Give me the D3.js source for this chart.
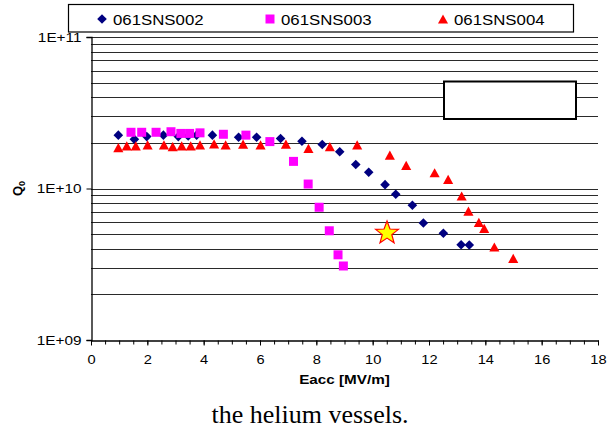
<!DOCTYPE html>
<html>
<head>
<meta charset="utf-8">
<script src="https://cdn.jsdelivr.net/npm/d3@7"></script>
<style>
  body { margin: 0; background: #fff; }
  svg { display: block; }
</style>
</head>
<body>
<script>
// cavity test data: Eacc [MV/m] and Q0
const sns002_e = [0.97, 1.54, 1.98, 2.57, 3.1, 3.45, 3.75, 4.31, 5.24, 5.88, 6.73, 7.49, 8.21, 8.83, 9.40, 9.86, 10.44, 10.82, 11.41, 11.80, 12.51, 13.14, 13.43];
const sns002_q = [2.25e10, 2.11e10, 2.2e10, 2.25e10, 2.2e10, 2.22e10, 2.25e10, 2.25e10, 2.18e10, 2.18e10, 2.14e10, 2.05e10, 1.95e10, 1.75e10, 1.44e10, 1.28e10, 1.06e10, 9.16e9, 7.75e9, 5.92e9, 5.06e9, 4.25e9, 4.24e9];

const sns003_e = [1.42, 1.80, 2.31, 2.84, 3.19, 3.50, 3.87, 4.70, 5.50, 6.35, 7.19, 7.71, 8.10, 8.46, 8.77, 8.96];
const sns003_q = [2.35e10, 2.35e10, 2.35e10, 2.37e10, 2.31e10, 2.31e10, 2.33e10, 2.28e10, 2.25e10, 2.04e10, 1.51e10, 1.07e10, 7.52e9, 5.26e9, 3.65e9, 3.08e9];

const sns004_e = [0.97, 1.27, 1.59, 2.01, 2.59, 2.90, 3.22, 3.54, 3.87, 4.37, 4.78, 5.40, 6.02, 6.92, 7.72, 8.48, 9.45, 10.61, 11.19, 12.20, 12.68, 13.16, 13.40, 13.77, 13.96, 14.32, 14.99];
const sns004_q = [1.86e10, 1.91e10, 1.91e10, 1.94e10, 1.94e10, 1.89e10, 1.91e10, 1.91e10, 1.94e10, 1.97e10, 1.94e10, 1.96e10, 1.94e10, 1.96e10, 1.84e10, 1.89e10, 1.94e10, 1.66e10, 1.42e10, 1.27e10, 1.15e10, 8.92e9, 7.10e9, 5.97e9, 5.46e9, 4.11e9, 3.46e9];

const star_e = [10.51];
const star_q = [5.08e9];

const seriesNames = ["061SNS002", "061SNS003", "061SNS004"];
const xTicks = [0, 2, 4, 6, 8, 10, 12, 14, 16, 18];
const yTicks = [1e9, 1e10, 1e11];
const yTickLabels = ["1E+09", "1E+10", "1E+11"];

const width = 612, height = 429;
const margin = { left: 91, right: 14, top: 37, bottom: 89 };
const sans = "Liberation Sans, Arial, sans-serif";

const svg = d3.select("body").append("svg")
    .attr("width", width)
    .attr("height", height);

// the original text is a bit wider than the font, stretch it sideways
function stretch(sel, k) {
    sel.each(function () {
        const w = this.getComputedTextLength();
        d3.select(this).attr("textLength", w * k).attr("lengthAdjust", "spacingAndGlyphs");
    });
}

const x = d3.scaleLinear().domain([0, 18]).range([margin.left, width - margin.right]);
const y = d3.scaleLog().domain([1e9, 1e11]).range([height - margin.bottom, margin.top]);

// horizontal gridlines at every 1..9 x decade
const gridVals = [];
[1e9, 1e10].forEach(d => { for (let k = 2; k <= 10; k++) gridVals.push(d * k); });
svg.append("g").selectAll("line")
    .data(gridVals)
    .enter().append("line")
    .attr("x1", x(0)).attr("x2", x(18))
    .attr("y1", d => Math.round(y(d)) + 0.5).attr("y2", d => Math.round(y(d)) + 0.5)
    .attr("stroke", "#2a2a2a").attr("stroke-width", 1.2);

// y axis
const yAxis = svg.append("g")
    .attr("transform", `translate(${x(0) + 0.5},0)`)
    .call(d3.axisLeft(y).tickValues(yTicks).tickFormat((d, i) => yTickLabels[i]).tickSize(5).tickPadding(5));
yAxis.select(".domain").attr("stroke", "#000").attr("stroke-width", 1.3);
yAxis.selectAll(".tick line").attr("stroke", "#000");
yAxis.selectAll("text").attr("font-family", sans).attr("font-size", 13).attr("fill", "#000")
    .call(stretch, 1.18);

// x axis: minor ticks every 0.5, labels every 2
const xMinor = d3.range(0, 18.01, 0.5);
const xAxisMinor = svg.append("g")
    .attr("transform", `translate(0,${Math.round(y(1e9)) + 0.5})`)
    .call(d3.axisBottom(x).tickValues(xMinor).tickFormat("").tickSize(4).tickSizeOuter(0));
xAxisMinor.select(".domain").attr("stroke", "#000").attr("stroke-width", 1.3);
xAxisMinor.selectAll(".tick line").attr("stroke", "#000");

const xAxis = svg.append("g")
    .attr("transform", `translate(0,${Math.round(y(1e9)) + 0.5})`)
    .call(d3.axisBottom(x).tickValues(xTicks).tickFormat(d3.format("d")).tickSize(5).tickPadding(10).tickSizeOuter(0));
xAxis.select(".domain").remove();
xAxis.selectAll(".tick line").attr("stroke", "#000");
xAxis.selectAll("text").attr("font-family", sans).attr("font-size", 12).attr("fill", "#000")
    .call(stretch, 1.22);

// empty text box inside the plot
svg.append("rect")
    .attr("x", 444).attr("y", 81.5).attr("width", 132).attr("height", 37.5)
    .attr("fill", "#fff").attr("stroke", "#000").attr("stroke-width", 2);

// marker shapes
function diamond(s) { return `M0,${-s}L${s},0L0,${s}L${-s},0Z`; }
function square(s) { return `M${-s},${-s}H${s}V${s}H${-s}Z`; }
function triangle(s) { return `M0,${-s}L${s * 1.1},${s}L${-s * 1.1},${s}Z`; }
function star(r) {
    let p = "";
    for (let i = 0; i < 10; i++) {
        const rr = i % 2 === 0 ? r : r * 0.42;
        const a = -Math.PI / 2 + i * Math.PI / 5;
        p += (i === 0 ? "M" : "L") + (rr * Math.cos(a)).toFixed(2) + "," + (rr * Math.sin(a)).toFixed(2);
    }
    return p + "Z";
}

const series = [
    { e: sns002_e, q: sns002_q, path: diamond(4.8), color: "#000080" },
    { e: sns003_e, q: sns003_q, path: square(4.5), color: "#ff00ff" },
    { e: sns004_e, q: sns004_q, path: triangle(4.6), color: "#ff0000" }
];

series.forEach(s => {
    svg.append("g").selectAll("path")
        .data(d3.zip(s.e, s.q))
        .enter().append("path")
        .attr("transform", d => `translate(${x(d[0])},${y(d[1])})`)
        .attr("d", s.path)
        .attr("fill", s.color);
});

svg.append("g").selectAll("path")
    .data(d3.zip(star_e, star_q))
    .enter().append("path")
    .attr("transform", d => `translate(${x(d[0])},${y(d[1])})`)
    .attr("d", star(12))
    .attr("fill", "#ffff00")
    .attr("stroke", "#ff0000")
    .attr("stroke-width", 1.2);

// legend
const legend = svg.append("g");
legend.append("rect")
    .attr("x", 68.5).attr("y", 4.5).attr("width", 505).attr("height", 27.5)
    .attr("fill", "#fff").attr("stroke", "#000").attr("stroke-width", 1.2);
const legX = [102, 270, 443];
seriesNames.forEach((name, i) => {
    legend.append("path")
        .attr("transform", `translate(${legX[i]},19)`)
        .attr("d", series[i].path)
        .attr("fill", series[i].color);
    legend.append("text")
        .attr("x", legX[i] + 11).attr("y", 25)
        .attr("font-family", sans)
        .attr("font-size", 14)
        .text(name)
        .call(stretch, 1.2);
});

// axis titles
svg.append("text")
    .attr("x", x(9)).attr("y", 384)
    .attr("text-anchor", "middle")
    .attr("font-family", sans)
    .attr("font-size", 12.5).attr("font-weight", "bold")
    .text("Eacc [MV/m]")
    .call(stretch, 1.22);

const qLabel = svg.append("text")
    .attr("transform", `translate(22,${y(1e10)}) rotate(-90)`)
    .attr("text-anchor", "middle")
    .attr("font-family", sans)
    .attr("font-size", 13).attr("font-weight", "bold");
qLabel.append("tspan").text("Q");
qLabel.append("tspan").attr("font-size", 9).attr("dy", 3).text("0");

// caption line below the chart
svg.append("text")
    .attr("x", 310).attr("y", 423)
    .attr("text-anchor", "middle")
    .attr("font-family", "Liberation Serif, Times New Roman, serif")
    .attr("font-size", 26)
    .text("the helium vessels.");
</script>
</body>
</html>
